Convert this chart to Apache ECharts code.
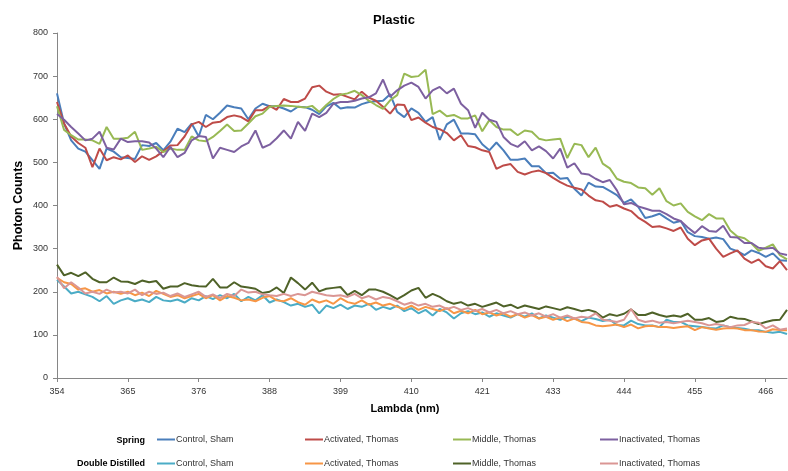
<!DOCTYPE html>
<html>
<head>
<meta charset="utf-8">
<script src="https://cdn.jsdelivr.net/npm/echarts@6/dist/echarts.min.js"></script>
<style>
  html, body { margin: 0; padding: 0; background: #fff; }
  #box { width: 788px; height: 471px; }
</style>
</head>
<body>
<div id="box"></div>
<script>
// x axis tick labels (one every 10 points)
const tickLabels = ['354', '365', '376', '388', '399', '410', '421', '433', '444', '455', '466']
const pointsPerTick = 10

// Spring
const springControl = [
  660, 590, 551, 532, 525, 505, 485, 532, 525, 512, 510, 508, 540, 538, 545, 528, 548, 578, 570, 590, 560, 610, 600, 615, 632, 628, 625,
  600, 625, 636, 630, 630, 625, 618, 629, 628, 622, 612, 630, 638, 625, 628, 627, 635, 640, 642, 643, 658, 617, 605, 625, 615,
  594, 605, 552, 588, 599, 567, 567, 565, 542, 528, 546, 528, 506, 506, 509, 491, 491, 475, 476, 462, 464, 439, 423, 453, 444, 443,
  434, 424, 406, 414, 397, 371, 375, 381, 370, 360, 364, 338, 329, 327, 323, 326, 322, 300, 294, 285, 296, 290, 281, 289, 273, 272
]
const springActivated = [
  640, 590, 560, 545, 534, 489, 532, 505, 512, 507, 516, 501, 514, 506, 514, 526, 539, 540, 560, 588, 594, 582, 592, 594, 605, 609, 605,
  595, 621, 621, 631, 622, 647, 640, 640, 648, 674, 678, 664, 657, 658, 652, 646, 664, 650, 643, 629, 613, 634, 633, 598, 604,
  592, 582, 577, 568, 551, 563, 538, 535, 528, 524, 485, 493, 496, 478, 472, 478, 481, 475, 464, 454, 446, 441, 437, 423, 412, 409,
  397, 401, 393, 387, 372, 362, 350, 352, 347, 341, 349, 323, 308, 319, 323, 300, 281, 289, 296, 277, 267, 275, 259, 254, 271, 250
]
const springMiddle = [
  630, 575, 563, 553, 553, 551, 543, 582, 555, 555, 557, 571, 529, 532, 536, 524, 532, 529, 529, 560, 551, 549, 559, 573, 588, 573, 574,
  590, 607, 613, 629, 631, 632, 631, 629, 627, 631, 617, 633, 647, 657, 660, 666, 656, 643, 633, 624, 644, 656, 706, 698, 700,
  715, 612, 620, 607, 610, 602, 602, 609, 572, 598, 582, 576, 576, 563, 574, 571, 555, 551, 553, 555, 510, 543, 540, 512, 534, 497,
  486, 462, 455, 452, 442, 440, 425, 440, 410, 400, 405, 385, 375, 366, 380, 370, 370, 342, 328, 324, 312, 295, 302, 310, 285, 275
]
const springInactivated = [
  612, 599, 582, 567, 551, 555, 571, 534, 530, 555, 547, 549, 549, 546, 532, 512, 536, 512, 522, 551, 561, 559, 509, 534, 529, 524, 537,
  545, 574, 534, 541, 556, 574, 555, 594, 573, 613, 605, 615, 636, 640, 640, 643, 648, 651, 660, 692, 652, 667, 678, 685, 675,
  648, 667, 675, 660, 671, 636, 621, 580, 615, 599, 594, 559, 543, 536, 549, 528, 537, 526, 509, 532, 488, 498, 474, 472, 462, 454,
  459, 435, 403, 406, 398, 393, 388, 388, 380, 370, 364, 349, 336, 352, 341, 339, 353, 327, 326, 313, 313, 302, 300, 302, 289, 285
]

// Double Distilled
const ddControl = [
  228, 212, 196, 200, 194, 188, 178, 190, 172, 180, 185, 178, 182, 176, 188, 180, 178, 182, 175, 185,
  180, 190, 183, 192, 185, 195, 178, 188, 180, 192, 175, 182, 176, 168, 172, 165, 170, 150, 168, 162,
  170, 160, 168, 165, 172, 158, 165, 160, 168, 155, 162, 150, 158, 145, 160, 152, 138, 150, 155, 148,
  152, 142, 150, 145, 140, 148, 142, 150, 138, 145, 140, 135, 142, 138, 132, 140,
  137, 132, 135, 123, 122, 133, 125, 122, 122, 118, 135, 130, 130, 122, 120, 118, 116, 115, 122, 118, 116, 114, 111, 111, 107, 105, 107, 102
]
const ddActivated = [
  232, 222, 218, 205, 208, 200, 204, 196, 200, 195, 200, 192, 198, 190, 202, 195, 188, 192, 185, 190,
  195, 185, 192, 180, 190, 186, 180, 182, 178, 186, 190, 180, 178, 185, 176, 170, 182, 175, 180, 172,
  185, 176, 172, 180, 170, 175, 168, 172, 165, 160, 168, 158, 165, 160, 155, 162, 150, 156, 150, 158,
  148, 152, 145, 150, 142, 148, 140, 146, 138, 142, 135, 140, 132, 138, 130, 128,
  122, 120, 122, 124, 118, 124, 115, 120, 121, 118, 118, 116, 118, 120, 111, 118, 115, 112, 115, 116, 115, 111, 111, 108, 107, 113, 111, 111
]
const ddMiddle = [
  263, 238, 244, 236, 245, 230, 222, 222, 233, 224, 223, 218, 226, 222, 225, 207, 212, 212, 220, 215, 213, 212, 230, 210, 210, 222, 212,
  210, 207, 197, 200, 210, 197, 233, 220, 205, 221, 201, 207, 209, 211, 192, 202, 192, 205, 205, 200, 192, 183, 192, 203, 209,
  186, 195, 188, 178, 172, 176, 168, 172, 165, 170, 175, 166, 170, 162, 168, 164, 160, 166, 162, 158, 164, 160, 155, 158,
  153, 140, 148, 144, 149, 159, 146, 146, 152, 146, 142, 145, 142, 149, 135, 135, 139, 130, 132, 142, 138, 137, 131, 125, 130, 134, 135, 158
]
const ddInactivated = [
  235, 208, 222, 210, 196, 200, 195, 205, 198, 200, 196, 205, 192, 200, 195, 198, 190, 196, 188, 194,
  200, 188, 194, 185, 195, 190, 205, 198, 200, 194, 192, 190, 195, 190, 195, 192, 200, 196, 192, 190,
  192, 188, 195, 185, 190, 182, 188, 185, 178, 170, 175, 168, 172, 165, 168, 160, 165, 158, 162, 155,
  160, 152, 158, 150, 155, 148, 152, 145, 150, 142, 148, 140, 145, 138, 142, 140,
  150, 135, 133, 130, 135, 160, 135, 130, 133, 128, 130, 127, 130, 133, 130, 127, 122, 125, 122, 118, 122, 123, 130, 128, 115, 122, 112, 115
]

const seriesList = [
  { id: 's1', name: 'Control, Sham', data: springControl, color: '#4A7EBB' },
  { id: 's2', name: 'Activated, Thomas', data: springActivated, color: '#BE4B48' },
  { id: 's3', name: 'Middle, Thomas', data: springMiddle, color: '#98B954' },
  { id: 's4', name: 'Inactivated, Thomas', data: springInactivated, color: '#7D60A0' },
  { id: 'd1', name: 'Control, Sham ', data: ddControl, color: '#4BACC6' },
  { id: 'd2', name: 'Activated, Thomas ', data: ddActivated, color: '#F79646' },
  { id: 'd3', name: 'Middle, Thomas ', data: ddMiddle, color: '#4F6228' },
  { id: 'd4', name: 'Inactivated, Thomas ', data: ddInactivated, color: '#DA9694' }
]

const categories = springControl.map((v, i) => String(i))
const onTick = (index) => index % pointsPerTick === 0

// one legend per item so the columns line up like the original
const legendCols = [157, 305, 453, 600]
const legendRows = [435, 459]
const legends = seriesList.map((s, i) => ({
  data: [s.name],
  left: legendCols[i % 4],
  top: legendRows[Math.floor(i / 4)],
  padding: 0,
  icon: 'rect',
  itemWidth: 18,
  itemHeight: 2,
  itemGap: 0,
  selectedMode: false,
  textStyle: { fontSize: 9, color: '#333', fontFamily: 'Liberation Sans', padding: [0, 0, 0, -4] }
}))

const myChart = echarts.init(document.getElementById('box'))
myChart.setOption({
  animation: false,
  textStyle: { fontFamily: 'Liberation Sans' },
  title: {
    text: 'Plastic',
    left: 'center',
    top: 9,
    textStyle: { fontSize: 13, fontWeight: 'bold', color: '#000' }
  },
  legend: legends,
  graphic: [
    { type: 'text', right: 788 - 145, top: 436, style: { text: 'Spring', font: 'bold 9px Liberation Sans', fill: '#000' } },
    { type: 'text', right: 788 - 145, top: 459, style: { text: 'Double Distilled', font: 'bold 9px Liberation Sans', fill: '#000' } }
  ],
  grid: { left: 57, right: 1, top: 33, bottom: 93 },
  xAxis: {
    type: 'category',
    data: categories,
    boundaryGap: false,
    name: 'Lambda (nm)',
    nameLocation: 'middle',
    nameGap: 25,
    nameTextStyle: { fontSize: 11, fontWeight: 'bold', color: '#000', padding: [0, 34, 0, 0] },
    axisLine: { lineStyle: { color: '#868686' } },
    axisTick: { interval: onTick, length: 4, lineStyle: { color: '#868686' } },
    axisLabel: {
      interval: onTick,
      fontSize: 9,
      color: '#333',
      margin: 9,
      formatter: (v, i) => tickLabels[i / pointsPerTick]
    },
    splitLine: { show: false }
  },
  yAxis: {
    type: 'value',
    min: 0,
    max: 800,
    interval: 100,
    name: 'Photon Counts',
    nameLocation: 'middle',
    nameGap: 32,
    nameMoveOverlap: false,
    nameTextStyle: { fontSize: 12.5, fontWeight: 'bold', color: '#000' },
    axisLine: { show: true, lineStyle: { color: '#868686' } },
    axisTick: { show: true, length: 4, lineStyle: { color: '#868686' } },
    axisLabel: { fontSize: 9, color: '#333', margin: 9 },
    splitLine: { show: false }
  },
  series: seriesList.map((s) => ({
    id: s.id,
    name: s.name,
    type: 'line',
    data: s.data,
    symbol: 'none',
    color: s.color,
    lineStyle: { width: 2, color: s.color }
  }))
})
</script>
</body>
</html>
